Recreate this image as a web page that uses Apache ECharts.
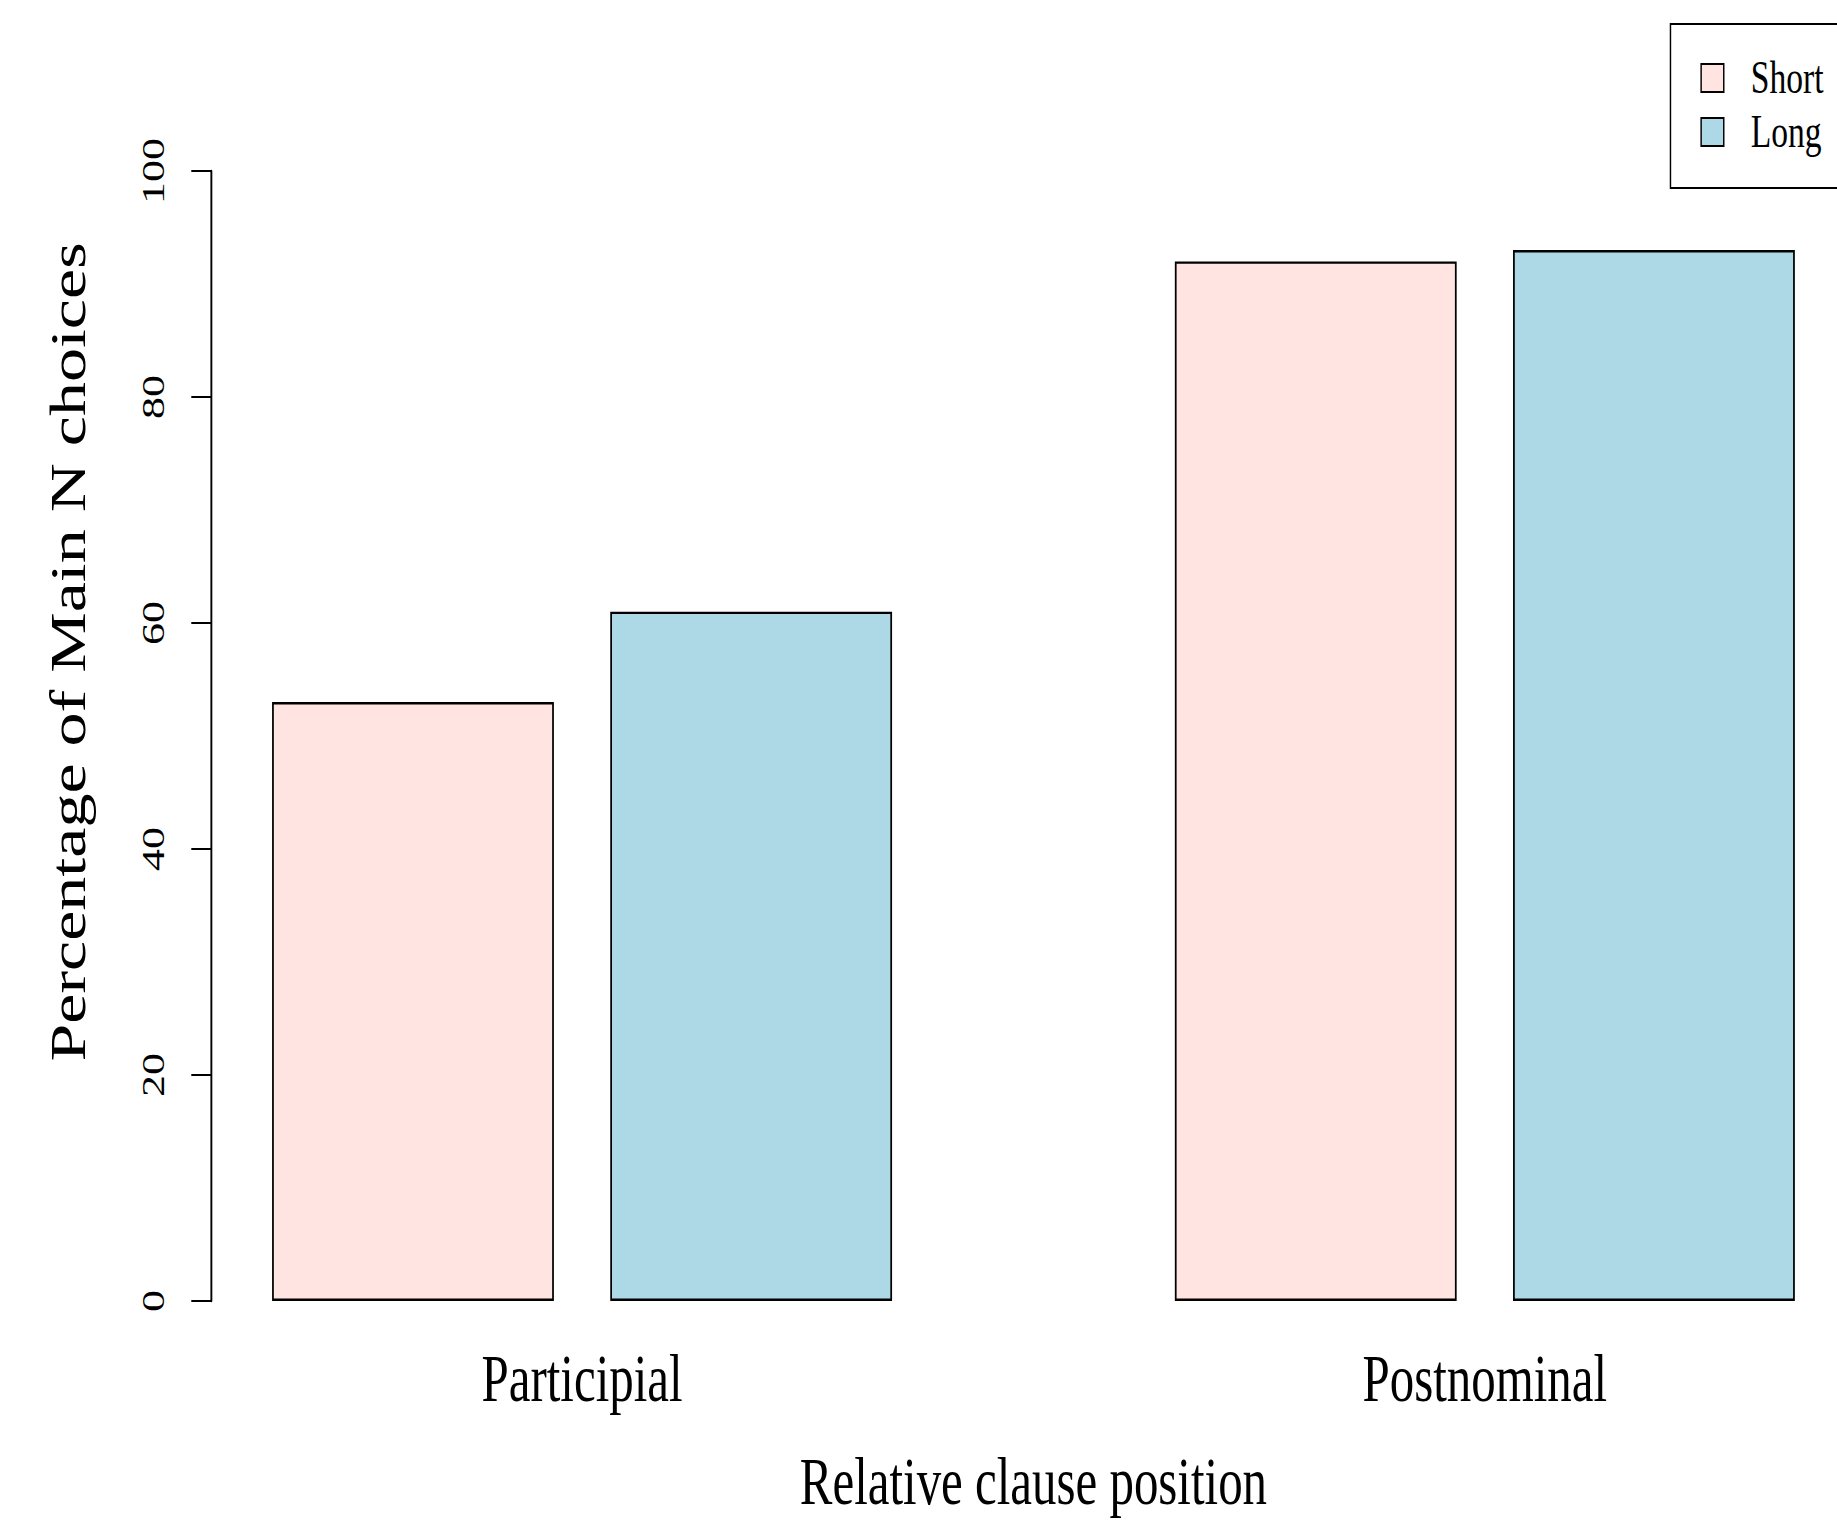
<!DOCTYPE html>
<html>
<head>
<meta charset="utf-8">
<script src="https://cdn.jsdelivr.net/npm/echarts@6/dist/echarts.min.js"></script>
<style>
  html, body { margin: 0; padding: 0; background: #fff; overflow: hidden; }
  /* the reference is horizontally squeezed, so draw wide and squeeze back */
  #chart { width: 2516px; height: 1524px; transform: scaleX(0.7301); transform-origin: 0 0; }
</style>
</head>
<body>
<div id="chart"></div>
<script>
const categories = ["Participial", "Postnominal"];
const seriesNames = ["Short", "Long"];
const shortValues = [53, 92];
const longValues = [61, 93];
const colors = ["#FFE4E1", "#ADD8E6"];

const FONT = "Liberation Serif";
const chart = echarts.init(document.getElementById("chart"), null, { renderer: "svg" });

const barStyle = (c) => ({ color: c, borderColor: "#000", borderWidth: 2.4 });

chart.setOption({
  backgroundColor: "#fff",
  animation: false,
  textStyle: { fontFamily: FONT, color: "#000" },
  grid: { left: 179, right: -136, top: 171, bottom: 223, outerBoundsMode: "none", containLabel: false },
  legend: {
    data: seriesNames, orient: "vertical", left: 2288, top: 24,
    icon: "rect", itemWidth: 31, itemHeight: 28, itemGap: 8,
    padding: [31, 60, 33, 41],
    borderColor: "#000", borderWidth: 2, backgroundColor: "#fff",
    textStyle: { fontFamily: FONT, fontSize: 46, lineHeight: 46, color: "#000", padding: [0, 0, 0, 32] }
  },
  xAxis: {
    type: "category", data: categories,
    axisLine: { show: false }, axisTick: { show: false },
    axisLabel: { fontFamily: FONT, fontSize: 67, color: "#000", margin: 44 },
    name: "Relative clause position", nameLocation: "middle", nameGap: 147,
    nameTextStyle: { fontFamily: FONT, fontSize: 67, color: "#000" }
  },
  yAxis: {
    type: "value", min: 0, max: 100, interval: 20, offset: -110,
    splitLine: { show: false },
    axisLine: { show: true, lineStyle: { color: "#000", width: 2.6 } },
    axisTick: { show: true, length: 27, lineStyle: { color: "#000", width: 2 } },
    axisLabel: { fontFamily: FONT, fontSize: 44, color: "#000", rotate: 90, margin: 57 },
    name: "Percentage of Main N choices", nameLocation: "middle", nameGap: 161,
    // left padding pushes the rotated title up, as in the original
    nameTextStyle: { fontFamily: FONT, fontSize: 68, color: "#000", padding: [0, 0, 0, 168] }
  },
  series: [
    { name: seriesNames[0], type: "bar", data: shortValues, barWidth: 386, barGap: "20%", itemStyle: barStyle(colors[0]) },
    { name: seriesNames[1], type: "bar", data: longValues, barWidth: 386, barGap: "20%", itemStyle: barStyle(colors[1]) }
  ]
});
</script>
</body>
</html>
